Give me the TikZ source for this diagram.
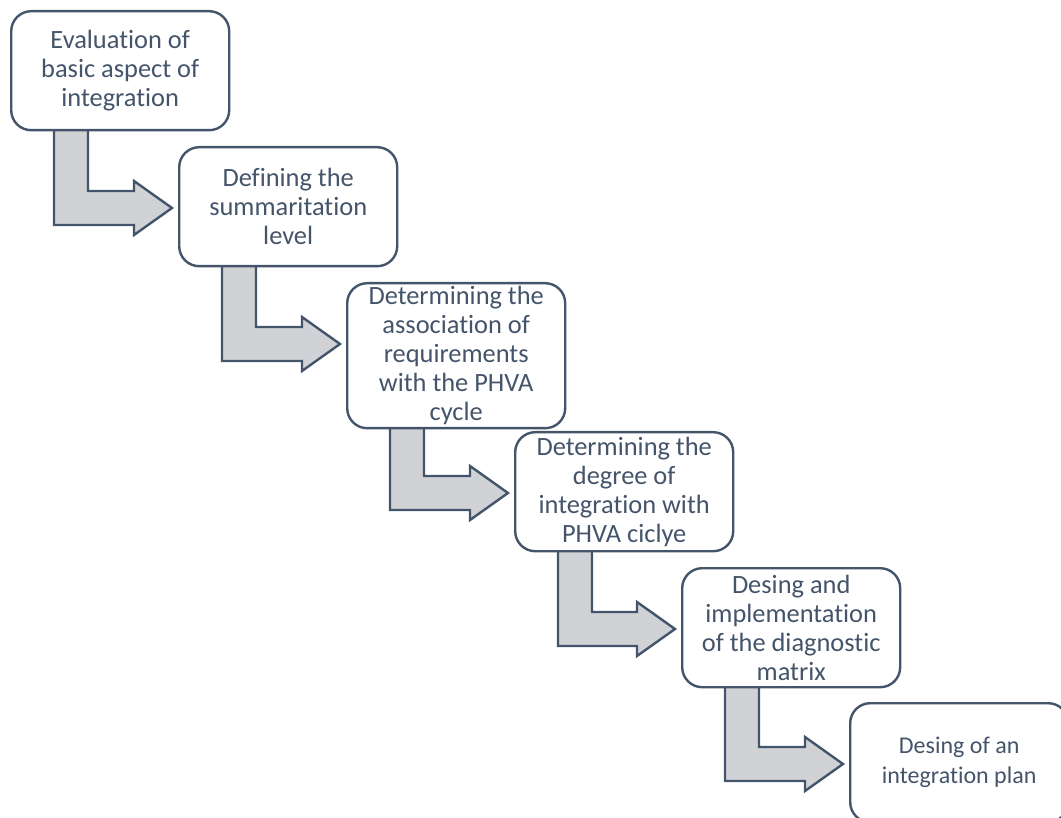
\documentclass[tikz,border=0pt]{standalone}
\usepackage{fontspec}
\setmainfont{Carlito}[Ligatures={NoCommon}]
\usetikzlibrary{calc,backgrounds}
\definecolor{slate}{HTML}{44546A}
\definecolor{arrowgray}{HTML}{D0D2D6}

\begin{document}
\begin{tikzpicture}[x=0.5pt,y=-0.5pt,
  stepbox/.style={draw=slate, line width=1.2pt, fill=white, rounded corners=10pt,
    anchor=north west, minimum width=109pt, minimum height=59.5pt, align=center,
    text=slate, inner xsep=2pt, inner ysep=1pt, font=\fontsize{13.2}{14.5}\selectfont},
  steparrow/.style={draw=slate, line width=1.2pt, fill=arrowgray, line join=miter}]

  \useasboundingbox (0,0) rectangle (1061,818);

  \node[stepbox] (b1) at (10,10) {Evaluation of\\basic aspect of\\integration};
  \node[stepbox] (b2) at (178,146) {Defining the\\summaritation\\level};
  \node[stepbox, minimum height=72.5pt] (b3) at (346,282) {Determining the\\association of\\requirements\\with the PHVA\\cycle};
  \node[stepbox] (b4) at (514,431) {Determining the\\degree of\\integration with\\PHVA ciclye};
  \node[stepbox] (b5) at (681,567) {Desing and\\implementation\\of the diagnostic\\matrix};
  \node[stepbox, font=\fontsize{12}{15}\selectfont] (b6) at (849,702) {Desing of an\\integration plan};

  % bent arrows from one step to the next
  \begin{scope}[on background layer]
    \foreach \a/\b in {b1/b2,b2/b3,b3/b4,b4/b5,b5/b6}
      \draw[steparrow] let \p1=(\a.south west), \p2=(\b.north west) in
        (\x1+22pt,\y1+3pt) -- (\x1+39pt,\y1+3pt) -- (\x1+39pt,\y2-22.5pt)
        -- (\x2-22pt,\y2-22.5pt) -- (\x2-22pt,\y2-17.5pt) -- (\x2-3pt,\y2-31pt)
        -- (\x2-22pt,\y2-44.5pt) -- (\x2-22pt,\y2-39.5pt) -- (\x1+22pt,\y2-39.5pt) -- cycle;
  \end{scope}

\end{tikzpicture}
\end{document}
